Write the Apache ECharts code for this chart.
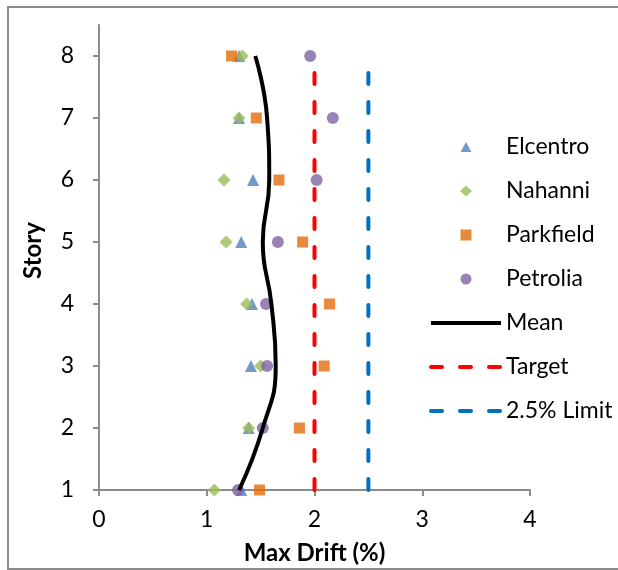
<!DOCTYPE html>
<html>
<head>
<meta charset="utf-8">
<script src="https://cdn.jsdelivr.net/npm/echarts@6/dist/echarts.min.js"></script>
<style>
  html, body { margin: 0; padding: 0; background: #fff; }
  #chart { width: 618px; height: 570px; }
</style>
</head>
<body>
<div id="chart"></div>
<script>
// stories (y) and drift values (x)
var stories = [1, 2, 3, 4, 5, 6, 7, 8];
var elcentro = [1.32, 1.39, 1.41, 1.42, 1.32, 1.43, 1.30, 1.30];
var nahanni = [1.07, 1.39, 1.50, 1.37, 1.18, 1.16, 1.30, 1.33];
var parkfield = [1.49, 1.86, 2.09, 2.14, 1.89, 1.67, 1.46, 1.23];
var petrolia = [1.29, 1.52, 1.56, 1.55, 1.66, 2.02, 2.17, 1.96];
var mean = [1.30, 1.52, 1.64, 1.60, 1.52, 1.58, 1.56, 1.45];
var target = [[2, 1], [2, 8]];
var limit = [[2.5, 1], [2.5, 8]];

var font = 'Lato, "Open Sans", sans-serif';

function pairs(vals) {
	return vals.map(function (v, i) { return [v, stories[i]]; });
}

var chart = echarts.init(document.getElementById('chart'));

// legend markers: small symbol centred in the 70x11 legend box
// (tiny specks at both ends keep the path from being stretched)
var pad = 'M0,5.5 L0.01,5.45 L0.01,5.55 Z M70,5.5 L69.99,5.45 L69.99,5.55 Z ';
var icons = {
	triangle: 'path://' + pad + 'M35,0.5 L40.5,10.5 L29.5,10.5 Z',
	diamond: 'path://' + pad + 'M35,0 L41,5.5 L35,11 L29,5.5 Z',
	rect: 'path://' + pad + 'M29.5,0 L40.5,0 L40.5,11 L29.5,11 Z',
	circle: 'path://' + pad + 'M40.5,5.5 A5.5,5.5 0 1 1 29.5,5.5 A5.5,5.5 0 1 1 40.5,5.5 Z'
};

// line entries in the legend: plain line, no marker in the middle
var lineItem = function (name) {
	return { name: name, itemStyle: { opacity: 0 }, lineStyle: { width: 4 } };
};

var option = {
	animation: false,
	backgroundColor: '#ffffff',
	textStyle: { fontFamily: font },
	grid: { left: 99, right: 88, top: 25, bottom: 79 },
	legend: {
		orient: 'vertical',
		left: 424,
		top: 130,
		itemWidth: 70,
		itemHeight: 11,
		itemGap: 20,
		textStyle: { fontSize: 23, lineHeight: 24, color: '#000', fontFamily: font },
		data: [
			{ name: 'Elcentro', icon: icons.triangle },
			{ name: 'Nahanni', icon: icons.diamond },
			{ name: 'Parkfield', icon: icons.rect },
			{ name: 'Petrolia', icon: icons.circle },
			lineItem('Mean'),
			lineItem('Target'),
			lineItem('2.5% Limit')
		]
	},
	xAxis: {
		type: 'value',
		min: 0,
		max: 4,
		interval: 1,
		name: 'Max Drift (%)',
		nameLocation: 'middle',
		nameGap: 51,
		nameTextStyle: { fontSize: 24, fontWeight: 'bold', color: '#000', fontFamily: font },
		axisLine: { show: true, onZero: false, lineStyle: { color: '#8c8c8c', width: 2 } },
		axisTick: { show: true, length: 6, lineStyle: { color: '#8c8c8c', width: 2 } },
		axisLabel: { fontSize: 23, color: '#000', margin: 18, fontFamily: font },
		splitLine: { show: false }
	},
	yAxis: {
		type: 'value',
		min: 1,
		max: 8.5,
		name: 'Story',
		nameLocation: 'middle',
		nameGap: 54,
		nameTextStyle: { fontSize: 24, fontWeight: 'bold', color: '#000', fontFamily: font, padding: [0, 0, 0, 14] },
		axisLine: { show: true, onZero: false, lineStyle: { color: '#8c8c8c', width: 2 } },
		axisTick: { show: true, length: 6, customValues: stories, lineStyle: { color: '#8c8c8c', width: 2 } },
		axisLabel: { fontSize: 23, color: '#000', margin: 25, customValues: stories, fontFamily: font },
		splitLine: { show: false }
	},
	graphic: [
		{
			type: 'rect',
			silent: true,
			shape: { x: 8, y: 7, width: 700, height: 562 },
			style: { fill: 'none', stroke: '#8c8c8c', lineWidth: 2 }
		}
	],
	series: [
		{
			name: 'Elcentro',
			type: 'scatter',
			symbol: 'triangle',
			symbolSize: 12,
			itemStyle: { color: '#4f81bd' },
			data: pairs(elcentro)
		},
		{
			name: 'Nahanni',
			type: 'scatter',
			symbol: 'diamond',
			symbolSize: 13,
			itemStyle: { color: '#9bbb59' },
			data: pairs(nahanni)
		},
		{
			name: 'Parkfield',
			type: 'scatter',
			symbol: 'rect',
			symbolSize: 11,
			itemStyle: { color: '#e46c0a' },
			data: pairs(parkfield)
		},
		{
			name: 'Petrolia',
			type: 'scatter',
			symbol: 'circle',
			symbolSize: 12,
			itemStyle: { color: '#8064a2' },
			data: pairs(petrolia)
		},
		{
			name: 'Mean',
			type: 'line',
			smooth: 0.5,
			symbol: 'none',
			itemStyle: { color: '#000' },
			lineStyle: { color: '#000', width: 4 },
			data: pairs(mean)
		},
		{
			name: 'Target',
			type: 'line',
			symbol: 'none',
			itemStyle: { color: '#ff0000' },
			lineStyle: { color: '#ff0000', width: 4, type: [11, 18], cap: 'round' },
			data: target
		},
		{
			name: '2.5% Limit',
			type: 'line',
			symbol: 'none',
			itemStyle: { color: '#0070c0' },
			lineStyle: { color: '#0070c0', width: 4, type: [11, 18], cap: 'round' },
			data: limit
		}
	]
};

chart.setOption(option);
</script>
</body>
</html>
